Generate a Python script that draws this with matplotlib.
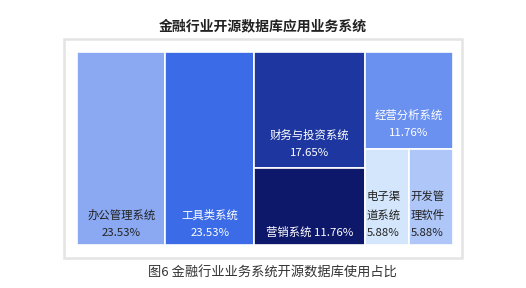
import matplotlib
matplotlib.use("Agg")
import matplotlib.pyplot as plt
from matplotlib.patches import Rectangle

plt.rcParams['font.family'] = ['Noto Sans CJK SC', 'DejaVu Sans']

# data
names = ['办公管理系统', '工具类系统', '财务与投资系统', '营销系统',
         '经营分析系统', '电子渠道系统', '开发管理软件']
shares = [23.53, 23.53, 17.65, 11.76, 11.76, 5.88, 5.88]
labels = ['办公管理系统\n23.53%', '工具类系统\n23.53%', '财务与投资系统\n17.65%',
          '营销系统 11.76%', '经营分析系统\n11.76%', '电子渠\n道系统\n5.88%',
          '开发管\n理软件\n5.88%']
colors = ['#8aa9f2', '#3b6be6', '#1e37a0', '#0e186a', '#6a90f0', '#d4e6fb', '#aec7f8']
text_colors = ['#222222', 'white', 'white', 'white', 'white', '#222222', '#222222']
# nesting: top level split left-right, then top-bottom, then left-right
layout = [0, 1, [2, 3], [4, [5, 6]]]


def total(node):
    if isinstance(node, list):
        return sum(total(n) for n in node)
    return shares[node]


def slice_rect(node, x, y, w, h, horiz, out):
    if not isinstance(node, list):
        out[node] = (x, y, w, h)
        return
    s = total(node)
    pos = 0.0
    for child in node:
        f = total(child) / s
        if horiz:
            slice_rect(child, x + pos * w, y, w * f, h, not horiz, out)
        else:
            slice_rect(child, x, y + pos * h, w, h * f, not horiz, out)
        pos += f


fig = plt.figure(figsize=(5.26, 2.88), dpi=100)
ax = fig.add_axes([0, 0, 1, 1])
ax.set_xlim(0, 526)
ax.set_ylim(288, 0)
ax.axis('off')

# outer frame
ax.add_patch(Rectangle((64, 39), 398, 219, facecolor='white',
                       edgecolor='#e4e4e4', linewidth=1.8))

rects = {}
slice_rect(layout, 77, 52, 376, 193, True, rects)

for i in range(len(names)):
    x, y, w, h = rects[i]
    ax.add_patch(Rectangle((x, y), w, h, facecolor=colors[i],
                           edgecolor='white', linewidth=1.2))
    small = w < 60
    tx = x + 2 if small else x + w / 2
    pad = 7 if h > 150 or small or h < 90 else 10
    ax.text(tx, y + h - pad, labels[i], ha='left' if small else 'center',
            va='bottom', fontsize=8.2, fontweight='medium',
            color=text_colors[i], linespacing=1.9)

ax.text(263, 26, '金融行业开源数据库应用业务系统', ha='center', va='center',
        fontsize=10, fontweight='bold', color='#222222')
ax.text(272, 273, '图6 金融行业业务系统开源数据库使用占比', ha='center', va='center',
        fontsize=9.5, color='#333333')

fig.savefig('out.png', dpi=100)
